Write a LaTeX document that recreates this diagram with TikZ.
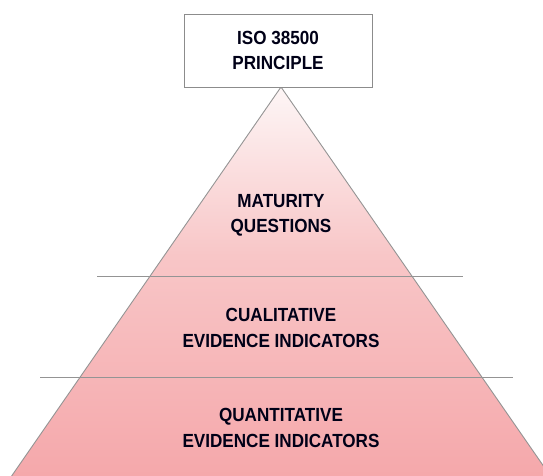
\documentclass[tikz,border=0pt]{standalone}
\usepackage{fontspec}
\newfontfamily\tierfont[FakeStretch=0.9]{Liberation Sans}
\definecolor{pinktop}{RGB}{253,246,246}
\definecolor{pinkmid}{RGB}{248,198,199}
\definecolor{pinkbot}{RGB}{245,168,171}
% the filled path is mapped onto 25bp (base) .. 75bp (apex)
\pgfdeclareverticalshading{pyramidfill}{100bp}{%
  color(0bp)=(pinkbot); color(28bp)=(pinkbot);
  color(54.6bp)=(pinkmid); color(75bp)=(pinktop); color(100bp)=(pinktop)}
\begin{document}
\begin{tikzpicture}[x=1pt,y=-1pt,
  edge/.style={draw=black!42,line width=0.9pt},
  tier/.style={font=\tierfont\bfseries\fontsize{19}{25.5}\selectfont,
    text=black!85!blue!60!black,align=center,inner sep=0pt}]
  \useasboundingbox (0,0) rectangle (543,475);
  \clip (0,0) rectangle (543,475);
  % pyramid body
  \coordinate (apex) at (281,87);
  \coordinate (baseL) at (-5,500);
  \coordinate (baseR) at (567,500);
  \shade[shading=pyramidfill] (apex) -- (baseL) -- (baseR) -- cycle;
  \draw[edge] (baseL) -- (apex) -- (baseR);
  % tier separators
  \coordinate (s1l) at (97,276);  \coordinate (s1r) at (463,276);
  \coordinate (s2l) at (40,377);  \coordinate (s2r) at (513,377);
  \draw[edge,line width=0.8pt] (s1l) -- (s1r);
  \draw[edge,line width=0.8pt] (s2l) -- (s2r);
  % top box
  \node[draw=black!45,line width=0.9pt,fill=white,minimum width=188pt,
    minimum height=73pt,inner sep=0pt] (principle) at (278,50.5) {};
  \node[tier] (principletext) at (principle.center) {ISO 38500\\PRINCIPLE};
  % tier labels
  \node[tier] (maturity) at (281,215.5) {MATURITY\\QUESTIONS};
  \node[tier] (qualitative) at (281,328) {CUALITATIVE\\EVIDENCE INDICATORS};
  \node[tier] (quantitative) at (281,428) {QUANTITATIVE\\EVIDENCE INDICATORS};
\end{tikzpicture}
\end{document}
